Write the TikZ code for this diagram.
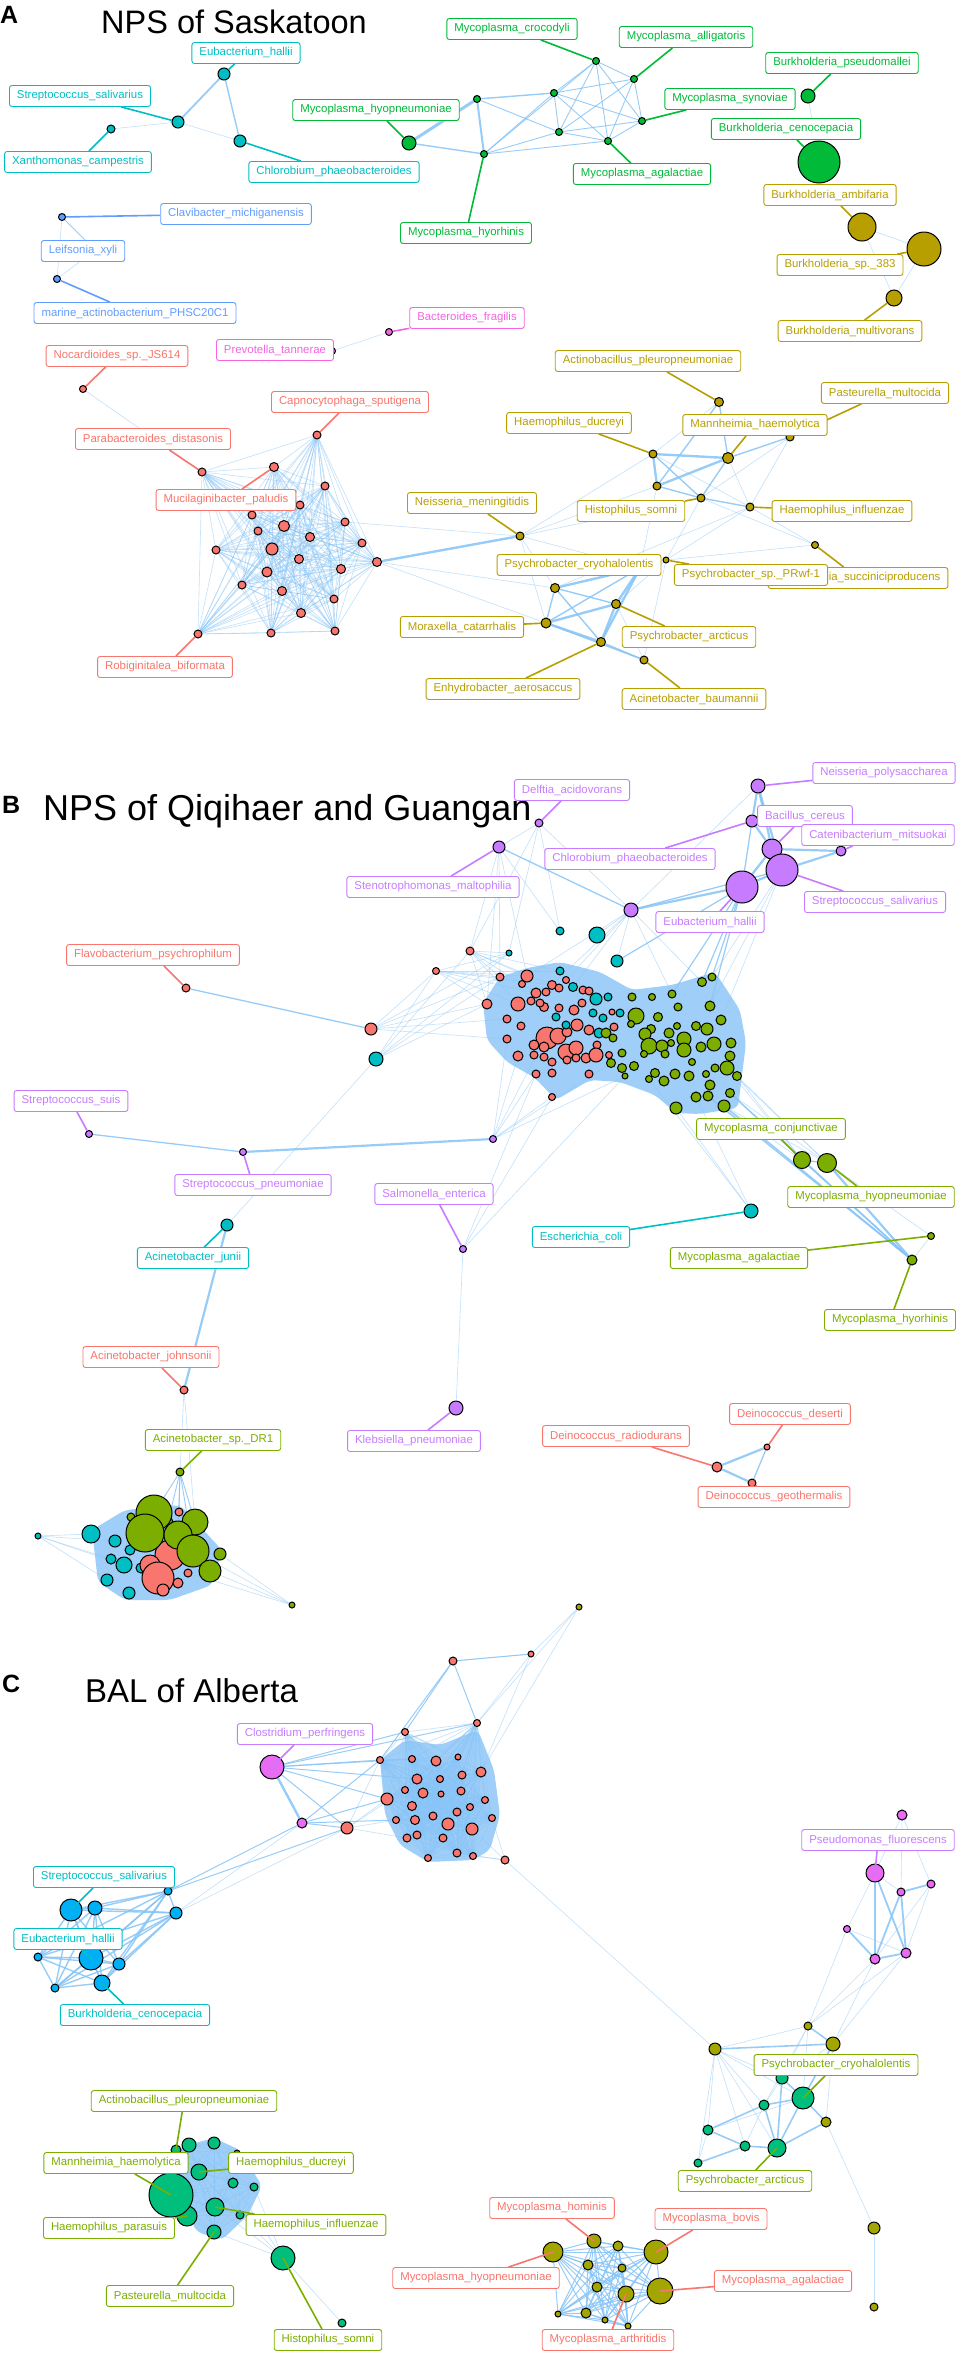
\documentclass[tikz,border=0pt]{standalone}
\usepackage{fontspec}
\setmainfont{Liberation Sans}

\definecolor{edgeblue}{RGB}{135,196,247}
\definecolor{tealA}{RGB}{0,191,196}
\definecolor{greenA}{RGB}{0,186,56}
\definecolor{goldA}{RGB}{183,159,0}
\definecolor{salmon}{RGB}{248,118,109}
\definecolor{blueA}{RGB}{97,156,255}
\definecolor{pinkA}{RGB}{245,100,227}
\definecolor{violB}{RGB}{199,124,255}
\definecolor{limeB}{RGB}{124,174,0}
\definecolor{azureC}{RGB}{0,176,246}
\definecolor{mintC}{RGB}{0,191,125}
\definecolor{oliveC}{RGB}{163,165,0}
\definecolor{pinkC}{RGB}{231,107,243}

\pgfdeclarelayer{bg}
\pgfdeclarelayer{fg}
\pgfsetlayers{bg,main,fg}

\tikzset{
  dot/.style={circle, draw=black, line width=1pt, fill=#1, inner sep=0pt},
  rad/.style={minimum size={2*#1}},
  lbl/.style={draw=#1, text=#1, fill=white, rounded corners=2.5pt, line width=0.9pt,
    font=\fontsize{11.4}{13}\selectfont, inner xsep=7.5pt, inner ysep=0pt, minimum height=21pt},
  seg/.style={draw=#1, line width=1.6pt},
  ln/.style={draw=edgeblue, line width=#1, opacity=0.85},
  ln/.default=1,
  fl/.style={draw=edgeblue, line width=0.6pt, opacity=0.5},
  mass/.style={fill=edgeblue, opacity=0.8, rounded corners=6pt},
  ttl/.style={anchor=base west, inner sep=0pt, font=\fontsize{#1}{#1}\selectfont},
  tag/.style={anchor=base west, inner sep=0pt, font=\fontsize{25}{25}\selectfont\bfseries},
}

\newcommand{\allpairs}[3]{%
  \pgfmathtruncatemacro\lastm{#2-1}%
  \foreach \ii in {1,...,\lastm}{%
    \pgfmathtruncatemacro\nx{\ii+1}%
    \foreach \jj in {\nx,...,#2}{\draw[#3] (#1\ii) -- (#1\jj);}}}

\begin{document}
\begin{tikzpicture}[x=1pt,y=-1pt]

\begin{pgfonlayer}{bg}
\fill[white] (0,0) rectangle (959,2353);
\end{pgfonlayer}
\useasboundingbox (0,0) rectangle (959,2353);

\node[tag] (tagA) at (0,23) {A};
\node[ttl=32.5] (ttlA) at (101,33) {NPS of Saskatoon};
\node[tag] (tagB) at (2,813) {B};
\node[ttl=36] (ttlB) at (43,820) {NPS of Qiqihaer and Guangan};
\node[tag] (tagC) at (2,1692) {C};
\node[ttl=33] (ttlC) at (85,1702) {BAL of Alberta};

% ---------------- panel A
\node[dot=tealA,rad=6] (eubA) at (224,74) {};
\node[dot=tealA,rad=6] (strA) at (178,122) {};
\node[dot=tealA,rad=4] (xanA) at (111,129) {};
\node[dot=tealA,rad=6] (chlA) at (240,141) {};
\node[dot=blueA,rad=3.5] (claA) at (62,217) {};
\node[dot=blueA,rad=3] (leiA) at (95,250) {};
\node[dot=blueA,rad=3.5] (marA) at (57,279) {};
\node[dot=pinkA,rad=3.5] (bacA) at (389,332) {};
\node[dot=pinkA,rad=3.5] (preA) at (332,351) {};
\node[dot=greenA,rad=7] (hyoA) at (409,143) {};
\foreach \nm/\x/\y in {m1A/477/99, m2A/554/93, m3A/559/132, croA/596/61, allA/634/79, synA/642/121, agaA/608/141, hyrA/484/154}
  \node[dot=greenA,rad=3.5] (\nm) at (\x,\y) {};
\node[dot=greenA,rad=7] (psdA) at (808,96) {};
\node[dot=greenA,rad=21] (cenA) at (819,162) {};
\node[dot=goldA,rad=14] (ambA) at (862,227) {};
\node[dot=goldA,rad=17] (b383A) at (924,249) {};
\node[dot=goldA,rad=8] (mulA) at (894,298) {};
\foreach \nm/\x/\y/\rr in {neiA/520/536/4, actA/719/402/4.5, manA/728/458/5.5, ducA/653/454/4, y1A/657/486/4, hisA/701/498/4, infA/750/507/4, pasA/790/437/4, sucA/815/545/3.5, cryA/640/568/3, prwA/666/560/3, m1yA/555/588/4.5, morA/546/623/5, arcA/616/604/4.5, enhA/601/642/4.5, bauA/644/660/4}
  \node[dot=goldA,rad=\rr] (\nm) at (\x,\y) {};
\node[dot=salmon,rad=3.5] (nocA) at (83,389) {};
\node[dot=salmon,rad=4,alias=ra1] (parA) at (202,472) {};
\node[dot=salmon,rad=4,alias=ra2] (capA) at (317,435) {};
\node[dot=salmon,rad=4.5,alias=ra3] (mucA) at (274,467) {};
\node[dot=salmon,rad=4,alias=ra4] (robA) at (198,634) {};
\foreach \x/\y/\rr [count=\ii from 5] in {325/486/4, 345/522/4, 284/526/5.5, 258/531/4, 310/537/4.5, 216/550/4, 272/549/6, 362/543/4, 299/559/4.5, 377/562/4.5, 267/572/5, 341/569/4.5, 242/585/4, 282/591/4.5, 334/599/4, 301/613/4.5, 271/633/4, 335/631/4, 300/505/4, 252/515/4}
  \node[dot=salmon,rad=\rr] (ra\ii) at (\x,\y) {};

\begin{pgfonlayer}{fg}
\node[lbl=tealA] (eubAL) at (246,53) {Eubacterium\_hallii};
\node[lbl=tealA] (strAL) at (80,96) {Streptococcus\_salivarius};
\node[lbl=tealA] (xanAL) at (78,162) {Xanthomonas\_campestris};
\node[lbl=tealA] (chlAL) at (334,172) {Chlorobium\_phaeobacteroides};
\node[lbl=blueA] (claAL) at (236,214) {Clavibacter\_michiganensis};
\node[lbl=blueA] (leiAL) at (83,251) {Leifsonia\_xyli};
\node[lbl=blueA] (marAL) at (135,313) {marine\_actinobacterium\_PHSC20C1};
\node[lbl=pinkA] (bacAL) at (467,318) {Bacteroides\_fragilis};
\node[lbl=pinkA] (preAL) at (275,350) {Prevotella\_tannerae};
\node[lbl=greenA] (hyoAL) at (376,110) {Mycoplasma\_hyopneumoniae};
\node[lbl=greenA] (croAL) at (512,29) {Mycoplasma\_crocodyli};
\node[lbl=greenA] (allAL) at (686,37) {Mycoplasma\_alligatoris};
\node[lbl=greenA] (synAL) at (730,99) {Mycoplasma\_synoviae};
\node[lbl=greenA] (agaAL) at (642,174) {Mycoplasma\_agalactiae};
\node[lbl=greenA] (hyrAL) at (466,233) {Mycoplasma\_hyorhinis};
\node[lbl=greenA] (psdAL) at (842,63) {Burkholderia\_pseudomallei};
\node[lbl=greenA] (cenAL) at (786,129) {Burkholderia\_cenocepacia};
\node[lbl=goldA] (ambAL) at (830,195) {Burkholderia\_ambifaria};
\node[lbl=goldA] (b383AL) at (840,265) {Burkholderia\_sp.\_383};
\node[lbl=goldA] (mulAL) at (850,331) {Burkholderia\_multivorans};
\node[lbl=goldA] (actAL) at (648,361) {Actinobacillus\_pleuropneumoniae};
\node[lbl=goldA] (pasAL) at (885,393) {Pasteurella\_multocida};
\node[lbl=goldA] (manAL) at (755,425) {Mannheimia\_haemolytica};
\node[lbl=goldA] (ducAL) at (569,423) {Haemophilus\_ducreyi};
\node[lbl=goldA] (hisAL) at (631,511) {Histophilus\_somni};
\node[lbl=goldA] (infAL) at (842,511) {Haemophilus\_influenzae};
\node[lbl=goldA] (neiAL) at (472,503) {Neisseria\_meningitidis};
\node[lbl=goldA] (sucAL) at (858,578) {Mannheimia\_succiniciproducens};
\node[lbl=goldA] (cryAL) at (579,565) {Psychrobacter\_cryohalolentis};
\node[lbl=goldA] (prwAL) at (751,575) {Psychrobacter\_sp.\_PRwf-1};
\node[lbl=goldA] (morAL) at (462,627) {Moraxella\_catarrhalis};
\node[lbl=goldA] (arcAL) at (689,637) {Psychrobacter\_arcticus};
\node[lbl=goldA] (enhAL) at (503,689) {Enhydrobacter\_aerosaccus};
\node[lbl=goldA] (bauAL) at (694,699) {Acinetobacter\_baumannii};
\node[lbl=salmon] (nocAL) at (117,356) {Nocardioides\_sp.\_JS614};
\node[lbl=salmon] (parAL) at (153,439) {Parabacteroides\_distasonis};
\node[lbl=salmon] (capAL) at (350,402) {Capnocytophaga\_sputigena};
\node[lbl=salmon] (mucAL) at (226,500) {Mucilaginibacter\_paludis};
\node[lbl=salmon] (robAL) at (165,667) {Robiginitalea\_biformata};
\end{pgfonlayer}

\foreach \nm in {eubA,strA,xanA,chlA} \draw[seg=tealA] (\nm) -- (\nm L);
\foreach \nm in {claA,marA} \draw[seg=blueA] (\nm) -- (\nm L);
\draw[seg=pinkA] (bacA) -- (bacAL);
\foreach \nm in {hyoA,croA,allA,synA,agaA,hyrA,psdA,cenA} \draw[seg=greenA] (\nm) -- (\nm L);
\foreach \nm in {ambA,b383A,mulA,actA,pasA,manA,ducA,hisA,infA,neiA,sucA,prwA,morA,arcA,enhA,bauA} \draw[seg=goldA] (\nm) -- (\nm L);
\foreach \nm in {nocA,parA,capA,mucA,robA} \draw[seg=salmon] (\nm) -- (\nm L);

% ---------------- panel B
\foreach \nm/\x/\y/\rr in {delB/539/823/4, npoB/758/786/7, chlB/752/821/6, steB/499/847/6, p1B/631/910/7, bceB/772/849/10, catB/841/851/5, ssaB/782/870/16, eubB/742/887/16, ssuB/89/1134/3.5, pneB/243/1152/3.5, pp1B/493/1139/3.5, salB/463/1249/3.5, kleB/456/1408/7}
  \node[dot=violB,rad=\rr] (\nm) at (\x,\y) {};
\foreach \nm/\x/\y/\rr in {flaB/186/988/4, rlB/371/1029/6, johB/184/1390/4, radB/717/1467/5, desB/767/1447/3, geoB/752/1483/4}
  \node[dot=salmon,rad=\rr] (\nm) at (\x,\y) {};
\foreach \nm/\x/\y/\rr in {clB/376/1059/7, junB/227/1225/6, ecoB/751/1211/7}
  \node[dot=tealA,rad=\rr] (\nm) at (\x,\y) {};
\foreach \nm/\x/\y/\rr in {drB/180/1472/4, conB/802/1160/8.5, hypB/827/1163/9.5, agaB/931/1236/3.5, hyrB/912/1260/5}
  \node[dot=limeB,rad=\rr] (\nm) at (\x,\y) {};

\foreach \x/\y/\rr [count=\ii] in {470/951/4, 436/971/3.5, 500/977/4, 527/976/6, 522/984/3.5, 487/1004/5, 518/1004/7, 507/1019/4, 521/1026/4, 536/993/5, 546/992/4, 552/985/4.5, 559/988/4, 566/980/3.5, 544/1007/4.5, 559/1008/4, 574/1010/5, 583/990/4, 589/991/4, 531/1001/4, 540/1003/4, 547/1038/11, 558/1036/8, 567/1032/5, 577/1025/6, 589/1030/5, 597/1045/4, 507/1039/4, 534/1045/5, 544/1047/5, 566/1052/8, 576/1048/7, 586/1058/5, 596/1055/7, 518/1056/5, 534/1055/4, 544/1057/4, 552/1062/4, 567/1060/4, 576/1058/4, 536/1074/4, 552/1073/4, 589/1074/4, 552/1097/3.5, 614/1027/4, 609/1055/3.5, 612/1012/3, 582/1003/4}
  \node[dot=salmon,rad=\rr] (br\ii) at (\x,\y) {};
\foreach \x/\y/\rr [count=\ii] in {560/931/4, 597/935/8, 617/961/6, 509/953/3, 560/971/4, 573/987/4.5, 596/999/6, 608/997/4, 620/1013/4, 556/1017/4, 566/1025/4, 599/1033/5, 593/1013/4, 603/1018/4}
  \node[dot=tealA,rad=\rr] (bc\ii) at (\x,\y) {};
\foreach \x/\y/\rr [count=\ii] in {632/997/4, 652/997/3.5, 672/994/4, 702/982/4.5, 712/977/4, 678/1007/4, 710/1006/5, 636/1016/8, 658/1017/4.5, 631/1024/3.5, 651/1029/4.5, 677/1026/3.5, 696/1026/4.5, 707/1029/6, 721/1020/5, 645/1034/6, 669/1033/5, 684/1039/7, 606/1033/5, 613/1038/4, 649/1046/8, 662/1046/6, 671/1043/3.5, 684/1050/7, 701/1047/5, 714/1044/7, 731/1043/5, 644/1054/3.5, 665/1054/4, 622/1053/4, 611/1063/4.5, 622/1068/4.5, 634/1066/4.5, 692/1062/3.5, 730/1056/5, 727/1068/7, 715/1068/4, 706/1074/3.5, 737/1076/4.5, 655/1073/4.5, 675/1074/5, 689/1076/5, 664/1081/5, 649/1079/3.5, 625/1076/3, 710/1085/5, 730/1093/4.5, 696/1097/5, 708/1096/5, 724/1106/6, 676/1108/6}
  \node[dot=limeB,rad=\rr] (bg\ii) at (\x,\y) {};

\foreach \x/\y/\rr [count=\ii] in {91/1534/9, 38/1536/3, 115/1541/6, 130/1550/5, 111/1559/5, 124/1565/8, 141/1568/5, 107/1580/6, 129/1593/6}
  \node[dot=tealA,rad=\rr] (lc\ii) at (\x,\y) {};
\foreach \x/\y/\rr [count=\ii] in {179/1512/4, 170/1555/15, 150/1565/10, 158/1578/16, 188/1573/4, 178/1583/5, 163/1590/6}
  \node[dot=salmon,rad=\rr] (lr\ii) at (\x,\y) {};
\foreach \x/\y/\rr [count=\ii] in {131/1517/4, 168/1522/5, 154/1513/18, 145/1533/19, 195/1522/13, 178/1535/14, 193/1551/16, 210/1571/11, 220/1554/6, 292/1605/3}
  \node[dot=limeB,rad=\rr] (lg\ii) at (\x,\y) {};

\begin{pgfonlayer}{fg}
\node[lbl=violB] (delBL) at (572,790) {Delftia\_acidovorans};
\node[lbl=violB] (npoBL) at (884,773) {Neisseria\_polysaccharea};
\node[lbl=violB] (bceBL) at (805,816) {Bacillus\_cereus};
\node[lbl=violB] (catBL) at (878,835) {Catenibacterium\_mitsuokai};
\node[lbl=violB] (ssaBL) at (875,902) {Streptococcus\_salivarius};
\node[lbl=violB] (eubBL) at (710,922) {Eubacterium\_hallii};
\node[lbl=violB] (chlBL) at (630,859) {Chlorobium\_phaeobacteroides};
\node[lbl=violB] (steBL) at (433,887) {Stenotrophomonas\_maltophilia};
\node[lbl=salmon] (flaBL) at (153,955) {Flavobacterium\_psychrophilum};
\node[lbl=violB] (ssuBL) at (71,1101) {Streptococcus\_suis};
\node[lbl=violB] (pneBL) at (253,1185) {Streptococcus\_pneumoniae};
\node[lbl=tealA] (junBL) at (193,1258) {Acinetobacter\_junii};
\node[lbl=violB] (salBL) at (434,1194) {Salmonella\_enterica};
\node[lbl=violB] (kleBL) at (414,1441) {Klebsiella\_pneumoniae};
\node[lbl=salmon] (johBL) at (151,1357) {Acinetobacter\_johnsonii};
\node[lbl=limeB] (drBL) at (213,1440) {Acinetobacter\_sp.\_DR1};
\node[lbl=tealA] (ecoBL) at (581,1237) {Escherichia\_coli};
\node[lbl=limeB] (conBL) at (771,1129) {Mycoplasma\_conjunctivae};
\node[lbl=limeB] (hypBL) at (871,1197) {Mycoplasma\_hyopneumoniae};
\node[lbl=limeB] (agaBL) at (739,1258) {Mycoplasma\_agalactiae};
\node[lbl=limeB] (hyrBL) at (890,1320) {Mycoplasma\_hyorhinis};
\node[lbl=salmon] (radBL) at (616,1436) {Deinococcus\_radiodurans};
\node[lbl=salmon] (desBL) at (790,1414) {Deinococcus\_deserti};
\node[lbl=salmon] (geoBL) at (774,1497) {Deinococcus\_geothermalis};
\end{pgfonlayer}

\foreach \nm in {delB,npoB,chlB,bceB,catB,ssaB,eubB,steB,ssuB,pneB,salB,kleB} \draw[seg=violB] (\nm) -- (\nm L);
\foreach \nm in {flaB,johB,radB,desB,geoB} \draw[seg=salmon] (\nm) -- (\nm L);
\foreach \nm in {junB,ecoB} \draw[seg=tealA] (\nm) -- (\nm L);
\foreach \nm in {drB,conB,hypB,agaB,hyrB} \draw[seg=limeB] (\nm) -- (\nm L);

% ---------------- panel C
\foreach \x/\y/\rr [count=\ii] in {405/1732/3.5, 477/1723/3.5, 380/1760/3.5, 412/1759/3.5, 436/1761/5, 458/1757/3, 417/1779/5, 440/1779/3.5, 462/1775/4, 405/1790/3.5, 423/1793/5, 441/1794/3, 461/1791/4, 387/1799/6, 412/1806/4.5, 457/1812/4, 470/1807/3.5, 396/1820/3.5, 415/1820/4.5, 433/1816/4, 448/1824/6, 472/1829/6, 417/1835/4, 443/1838/4, 407/1838/4, 428/1858/3.5, 457/1853/4, 473/1856/3.5, 481/1772/5, 485/1800/3.5, 492/1818/3.5}
  \node[dot=salmon,rad=\rr] (cr\ii) at (\x,\y) {};
\foreach \nm/\x/\y/\rr in {crt/453/1661/4, crl/347/1828/6, cro/531/1654/3, crf/505/1860/4}
  \node[dot=salmon,rad=\rr] (\nm) at (\x,\y) {};
\node[dot=oliveC,rad=3] (o0C) at (579,1607) {};
\node[dot=pinkC,rad=12] (cloC) at (272,1767) {};
\node[dot=pinkC,rad=5] (p2C) at (302,1823) {};

\node[dot=azureC,rad=11,alias=az1] (ssaC) at (71,1910) {};
\node[dot=azureC,rad=7,alias=az2] (a2C) at (95,1908) {};
\node[dot=azureC,rad=4,alias=az3] (a3C) at (168,1891) {};
\node[dot=azureC,rad=6,alias=az4] (a4C) at (176,1913) {};
\node[dot=azureC,rad=12,alias=az5] (eubC) at (91,1958) {};
\node[dot=azureC,rad=4,alias=az6] (a5C) at (38,1957) {};
\node[dot=azureC,rad=6,alias=az7] (a6C) at (119,1964) {};
\node[dot=azureC,rad=4,alias=az8] (a7C) at (55,1988) {};
\node[dot=azureC,rad=8,alias=az9] (burC) at (102,1983) {};

\node[dot=mintC,rad=5,alias=gc1] (actC) at (176,2150) {};
\node[dot=mintC,rad=7,alias=gc2] (g2C) at (189,2145) {};
\node[dot=mintC,rad=6,alias=gc3] (g3C) at (214,2143) {};
\node[dot=mintC,rad=3,alias=gc4] (g7C) at (237,2153) {};
\node[dot=mintC,rad=5,alias=gc5] (g4C) at (233,2183) {};
\node[dot=mintC,rad=4,alias=gc6] (g5C) at (254,2187) {};
\node[dot=mintC,rad=4,alias=gc7] (g6C) at (240,2215) {};
\node[dot=mintC,rad=8,alias=gc8] (ducC) at (199,2172) {};
\node[dot=mintC,rad=10,alias=gc9] (parC) at (187,2216) {};
\node[dot=mintC,rad=22,alias=gc10] (manC) at (171,2195) {};
\node[dot=mintC,rad=9,alias=gc11] (infC) at (215,2207) {};
\node[dot=mintC,rad=7,alias=gc12] (pasC) at (214,2232) {};
\node[dot=mintC,rad=12] (hisC) at (283,2258) {};
\node[dot=mintC,rad=4] (g1C) at (342,2323) {};

\foreach \nm/\x/\y/\rr in {mg0C/902/1815/5, psfC/875/1873/9, mg2C/901/1892/4, mg3C/931/1884/4, mg4C/847/1929/3.5, mg5C/875/1959/5, mg6C/906/1953/5}
  \node[dot=pinkC,rad=\rr] (\nm) at (\x,\y) {};
\foreach \nm/\x/\y/\rr in {o1C/808/2026/4, o2C/833/2044/7, o3C/715/2049/6, o4C/826/2122/5, o5C/874/2228/6, o6C/874/2307/4}
  \node[dot=oliveC,rad=\rr] (\nm) at (\x,\y) {};
\foreach \nm/\x/\y/\rr in {t2C/782/2078/6, cryC/803/2098/11, t3C/764/2105/5, t4C/708/2130/5, t5C/745/2146/5, arcC/777/2148/9, t7C/698/2163/4}
  \node[dot=mintC,rad=\rr] (\nm) at (\x,\y) {};

\foreach \x/\y/\rr [count=\ii from 6] in {618/2246/5, 588/2265/5, 622/2268/4, 597/2287/5, 586/2313/5, 558/2314/3, 605/2320/3, 628/2326/3}
  \node[dot=oliveC,rad=\rr] (mc\ii) at (\x,\y) {};
\node[dot=oliveC,rad=7,alias=mc1] (homC) at (594,2241) {};
\node[dot=oliveC,rad=12,alias=mc2] (bovC) at (656,2252) {};
\node[dot=oliveC,rad=10,alias=mc3] (hypC) at (553,2252) {};
\node[dot=oliveC,rad=13,alias=mc4] (agaC) at (660,2291) {};
\node[dot=oliveC,rad=8,alias=mc5] (artC) at (626,2294) {};

\begin{pgfonlayer}{fg}
\node[lbl=violB] (cloCL) at (305,1734) {Clostridium\_perfringens};
\node[lbl=tealA] (ssaCL) at (104,1877) {Streptococcus\_salivarius};
\node[lbl=tealA] (eubCL) at (68,1939) {Eubacterium\_hallii};
\node[lbl=tealA] (burCL) at (135,2015) {Burkholderia\_cenocepacia};
\node[lbl=limeB] (actCL) at (184,2101) {Actinobacillus\_pleuropneumoniae};
\node[lbl=limeB] (manCL) at (116,2163) {Mannheimia\_haemolytica};
\node[lbl=limeB] (ducCL) at (291,2163) {Haemophilus\_ducreyi};
\node[lbl=limeB] (parCL) at (109,2228) {Haemophilus\_parasuis};
\node[lbl=limeB] (infCL) at (316,2225) {Haemophilus\_influenzae};
\node[lbl=limeB] (pasCL) at (170,2296) {Pasteurella\_multocida};
\node[lbl=limeB] (hisCL) at (328,2340) {Histophilus\_somni};
\node[lbl=violB] (psfCL) at (878,1840) {Pseudomonas\_fluorescens};
\node[lbl=limeB] (cryCL) at (836,2065) {Psychrobacter\_cryohalolentis};
\node[lbl=limeB] (arcCL) at (745,2181) {Psychrobacter\_arcticus};
\node[lbl=salmon] (homCL) at (552,2208) {Mycoplasma\_hominis};
\node[lbl=salmon] (bovCL) at (711,2219) {Mycoplasma\_bovis};
\node[lbl=salmon] (hypCL) at (476,2278) {Mycoplasma\_hyopneumoniae};
\node[lbl=salmon] (agaCL) at (783,2281) {Mycoplasma\_agalactiae};
\node[lbl=salmon] (artCL) at (608,2340) {Mycoplasma\_arthritidis};
\end{pgfonlayer}

\draw[seg=violB] (cloC.center) -- (cloCL);
\draw[seg=violB] (psfC.center) -- (psfCL);
\foreach \nm in {ssaC,eubC,burC} \draw[seg=tealA] (\nm.center) -- (\nm L);
\foreach \nm in {actC,manC,ducC,parC,infC,pasC,hisC,cryC,arcC} \draw[seg=limeB] (\nm.center) -- (\nm L);
\foreach \nm in {homC,bovC,hypC,agaC,artC} \draw[seg=salmon] (\nm.center) -- (\nm L);

% ---------------- edges
\begin{pgfonlayer}{bg}
% A
\draw[ln=1.8] (eubA) -- (strA);
\draw[ln=1.4] (eubA) -- (chlA);
\draw[fl] (strA) -- (xanA) (strA) -- (chlA);
\draw[ln=0.8] (claA) -- (leiA);
\draw[fl] (claA) -- (marA) (leiA) -- (marA) (preA) -- (bacA) (psdA) -- (cenA);
\draw[fl] (ambA) -- (b383A) (ambA) -- (mulA) (b383A) -- (mulA);
\draw[ln=3] (hyoA) -- (m1A);
\draw[ln=1.4] (hyoA) -- (hyrA);
\draw[ln=2] (m1A) -- (hyrA);
\draw[ln=1.4] (m1A) -- (m2A);
\foreach \pa/\pb in {m1A/m3A, m2A/m3A, m2A/croA, m2A/allA, m2A/synA, m2A/agaA, m3A/croA, m3A/allA, m3A/synA, m3A/agaA, croA/allA, croA/synA, croA/agaA, allA/synA, allA/agaA, synA/agaA, hyrA/m2A, hyrA/m3A, hyrA/croA, hyrA/agaA}
  \draw[ln=0.9] (\pa) -- (\pb);
\draw[fl] (nocA) -- (parA);
\allpairs{ra}{24}{fl}
\foreach \pa/\pb in {ducA/manA, ducA/y1A, y1A/manA, morA/arcA, morA/enhA, arcA/enhA, m1yA/cryA, arcA/cryA, enhA/cryA, ra14/neiA}
  \draw[ln=2.4] (\pa) -- (\pb);
\foreach \pa/\pb in {actA/manA, actA/y1A, ducA/hisA, y1A/hisA, manA/hisA, manA/pasA, hisA/infA, m1yA/morA, m1yA/arcA, m1yA/enhA, morA/cryA, enhA/bauA, morA/bauA}
  \draw[ln=1.4] (\pa) -- (\pb);
\foreach \pa/\pb in {actA/ducA, ducA/infA, manA/infA, hisA/pasA, infA/pasA, infA/sucA, hisA/sucA, neiA/ducA, neiA/hisA, neiA/m1yA, neiA/morA, neiA/cryA, arcA/bauA, bauA/prwA, arcA/prwA, hisA/prwA, infA/m1yA, y1A/cryA, ra6/neiA, ra14/morA, ra14/m1yA, cryA/prwA, infA/prwA, sucA/prwA, y1A/neiA}
  \draw[fl] (\pa) -- (\pb);
% B
\fill[mass] (483,1003) -- (500,977) -- (527,968) -- (560,962) -- (600,972) -- (632,990) -- (672,985) -- (702,976) -- (715,972) -- (740,1010) -- (746,1043) -- (742,1075) -- (738,1108) -- (700,1114) -- (676,1113) -- (655,1095) -- (620,1082) -- (590,1080) -- (556,1100) -- (535,1078) -- (507,1062) -- (487,1040) -- cycle;
\foreach \pa/\pb in {npoB/chlB, npoB/bceB, chlB/bceB, bceB/ssaB, bceB/catB, ssaB/catB, eubB/ssaB, eubB/bceB, p1B/eubB, ssaB/npoB, pneB/pp1B, junB/johB, hypB/hyrB, radB/desB, radB/geoB}
  \draw[ln=2.2] (\pa) -- (\pb);
\foreach \pa/\pb in {eubB/chlB, p1B/ssaB, steB/p1B, flaB/rlB, ssuB/pneB, conB/hypB, conB/hyrB, geoB/desB}
  \draw[ln=1.3] (\pa) -- (\pb);
\foreach \pa/\pb in {steB/delB, delB/p1B, npoB/p1B, clB/junB, johB/drB, johB/lg5, salB/kleB, agaB/hypB, agaB/hyrB}
  \draw[fl] (\pa) -- (\pb);
\foreach \tg in {br4,br12,br14,bc2,bc3,bc6,bg4,bg3} \draw[fl] (p1B) -- (\tg);
\foreach \tg in {bg4,bg5,bg3,bc3,bg7} \draw[ln=1.2] (eubB) -- (\tg);
\foreach \tg in {bg5,bg7,bg15} \draw[fl] (ssaB) -- (\tg);
\foreach \tg in {bc1,bc4,br1} \draw[fl] (delB) -- (\tg);
\foreach \tg in {br1,br3,br4,bc1,br6} \draw[fl] (steB) -- (\tg);
\foreach \tg in {br2,br3,br6,br8,br28,bc4} \draw[fl] (rlB) -- (\tg);
\foreach \tg in {br1,br2,br3,br6,bc4} \draw[fl] (clB) -- (\tg);
\foreach \tg in {br28,br35,br41,br44,bc10,bg45,bg31} \draw[fl] (pp1B) -- (\tg);
\foreach \tg in {br44,br41,bg45} \draw[fl] (salB) -- (\tg);
\foreach \tg in {bg51,bg48,bg44} \draw[fl] (ecoB) -- (\tg);
\foreach \tg in {bg50,bg47,bg39,bg36} {\draw[fl] (conB) -- (\tg); \draw[fl] (hypB) -- (\tg);}
\foreach \tg in {bg50,bg49,bg47} \draw[ln=1.5] (hyrB) -- (\tg);
\foreach \tg in {br3,br4,br6,br7,br10,br12,bc5,bc4} {\draw[fl] (br1) -- (\tg); \draw[fl] (br2) -- (\tg);}
\fill[mass] (92,1530) -- (125,1510) -- (180,1505) -- (222,1550) -- (212,1585) -- (170,1600) -- (125,1600) -- (98,1582) -- cycle;
\foreach \tg in {lg2,lg3,lg5,lr1,lg6,lg7} \draw[ln=0.9] (drB) -- (\tg);
\foreach \tg in {lc1,lc3,lc5,lc8,lc6} \draw[fl] (lc2) -- (\tg);
\foreach \tg in {lg9,lg7,lr5,lg8} \draw[fl] (lg10) -- (\tg);
% C
\fill[mass] (380,1760) -- (405,1740) -- (440,1745) -- (478,1730) -- (494,1770) -- (500,1815) -- (490,1850) -- (473,1860) -- (428,1862) -- (400,1845) -- (385,1815) -- cycle;
\allpairs{cr}{31}{fl}
\foreach \tg in {cr1,cr2,cr3,cro} \draw[ln=1] (crt) -- (\tg);
\foreach \tg in {cr1,cr3,cr4,cr14,cr7,crl,cr2} \draw[ln=1] (cloC) -- (\tg);
\draw[ln=2.4] (cloC) -- (p2C);
\foreach \tg in {crl,cr14,cr18,cr3} \draw[ln=1] (p2C) -- (\tg);
\foreach \tg in {cr3,cr14,cr18,cr10,cr25} \draw[fl] (crl) -- (\tg);
\foreach \tg in {cr2,cr29,crt} \draw[fl] (cro) -- (\tg);
\foreach \tg in {cro,cr2,cr29} \draw[fl] (o0C) -- (\tg);
\foreach \tg in {cr27,cr28,cr31,cr22,o3C} \draw[fl] (crf) -- (\tg);
\foreach \tg in {p2C,crl} {\draw[ln=1] (a3C) -- (\tg); \draw[fl] (a4C) -- (\tg);}
\allpairs{az}{9}{ln=1.4}
\fill[mass] (180,2147) -- (214,2138) -- (240,2150) -- (262,2186) -- (248,2215) -- (222,2240) -- (197,2232) -- (182,2205) -- cycle;
\allpairs{gc}{12}{fl}
\foreach \tg in {pasC,infC,g5C,g4C,g6C,g1C} \draw[fl] (hisC) -- (\tg);
\foreach \pa/\pb in {mg0C/psfC, mg0C/mg2C, mg0C/mg3C, psfC/mg2C, psfC/mg4C, mg3C/mg6C, mg4C/mg6C, mg3C/mg5C, mg4C/o1C, mg5C/o1C, mg5C/o2C, mg6C/o2C, mg6C/o1C}
  \draw[fl] (\pa) -- (\pb);
\foreach \pa/\pb in {psfC/mg5C, psfC/mg6C, mg2C/mg3C, mg2C/mg5C, mg2C/mg6C, mg4C/mg5C, mg5C/mg6C}
  \draw[ln=1.8] (\pa) -- (\pb);
\foreach \pa/\pb in {o3C/o1C, o3C/t2C, o3C/cryC, o3C/t3C, o3C/t4C, o3C/t5C, o3C/arcC, o3C/t7C, o1C/cryC, o1C/t2C, o1C/t3C, o2C/t2C, o2C/o4C, t2C/t3C, t3C/t5C, t4C/t7C, o4C/o5C, o5C/o6C, t4C/cryC}
  \draw[fl] (\pa) -- (\pb);
\foreach \pa/\pb in {o3C/o2C, o1C/o2C, o2C/cryC, cryC/o4C, cryC/arcC, cryC/t3C, cryC/t2C, t2C/arcC, t3C/t4C, t3C/arcC, t5C/arcC, t4C/t5C, t7C/t5C, arcC/o4C}
  \draw[ln=1.6] (\pa) -- (\pb);
\allpairs{mc}{13}{ln=1}
\end{pgfonlayer}

\end{tikzpicture}
\end{document}
